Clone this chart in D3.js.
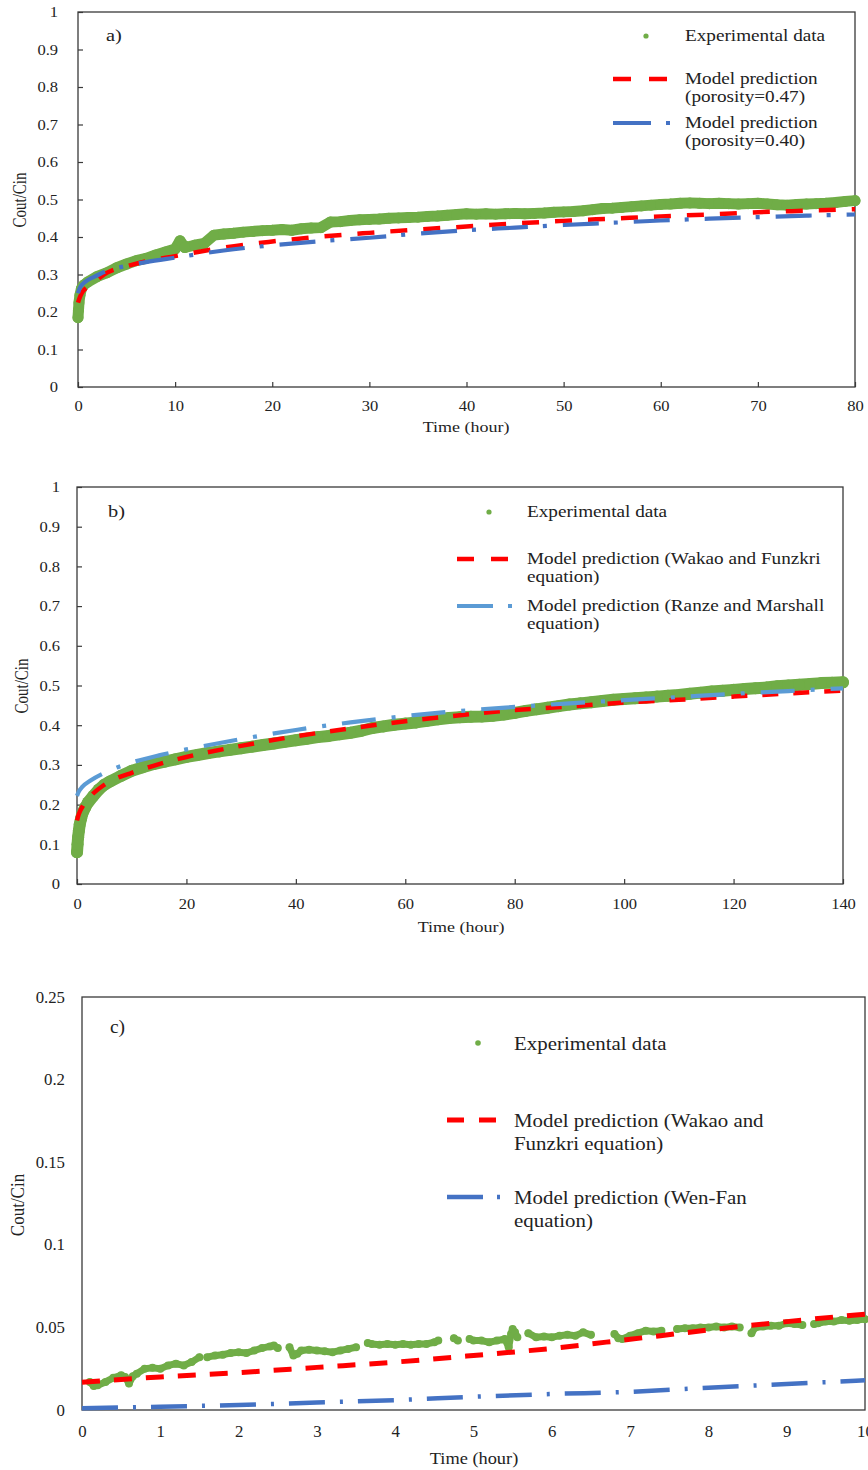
<!DOCTYPE html>
<html>
<head>
<meta charset="utf-8">
<script src="https://cdn.jsdelivr.net/npm/d3@7"></script>
<style>
  body { margin: 0; background: #fff; }
  svg { display: block; }
  text { font-family: "Liberation Serif", "Times New Roman", serif; fill: #222; }
</style>
</head>
<body>
<svg id="chart" width="868" height="1470"></svg>
<script>
// ---------- Panel a: porosity comparison (0-80 h) ----------
const xTicksA = [0, 10, 20, 30, 40, 50, 60, 70, 80];
const yTicksA = [0, 0.1, 0.2, 0.3, 0.4, 0.5, 0.6, 0.7, 0.8, 0.9, 1];
const timeExpA = [0, 0.05, 0.1, 0.2, 0.35, 0.6, 1, 2, 3, 4, 5, 6, 7, 8, 9, 10, 10.5, 11, 12, 13, 14, 15, 16, 17, 18, 19,
  20, 21, 22, 23, 24, 25, 26, 27, 28, 29, 30, 31, 32, 33, 34, 35, 36, 37, 38, 39, 40, 41, 42, 43, 44, 45, 46, 47, 48, 49,
  50, 51, 52, 53, 54, 55, 56, 57, 58, 59, 60, 61, 62, 63, 64, 65, 66, 67, 68, 69, 70, 71, 72, 73, 74, 75, 76, 77, 78, 79, 80];
const cExpA = [0.185, 0.205, 0.225, 0.245, 0.262, 0.272, 0.280, 0.295, 0.305, 0.318, 0.328, 0.337, 0.343, 0.352, 0.360,
  0.368, 0.390, 0.372, 0.378, 0.383, 0.405, 0.408, 0.410, 0.413, 0.415, 0.417,
  0.418, 0.420, 0.418, 0.422, 0.424, 0.425, 0.440, 0.441, 0.444, 0.446, 0.447, 0.448, 0.450, 0.451, 0.452, 0.453,
  0.455, 0.456, 0.458, 0.460, 0.462, 0.461, 0.462, 0.461, 0.462, 0.463, 0.462, 0.463, 0.464, 0.466,
  0.467, 0.468, 0.470, 0.473, 0.476, 0.477, 0.479, 0.481, 0.483, 0.485, 0.487, 0.488, 0.490, 0.491, 0.490,
  0.489, 0.490, 0.489, 0.488, 0.489, 0.490, 0.488, 0.486, 0.485, 0.487, 0.488, 0.489, 0.490, 0.492, 0.495, 0.497];
const timeModelA = [0, 0.2, 0.5, 1, 2, 3, 5, 7, 10, 15, 20, 25, 30, 35, 40, 45, 50, 55, 60, 65, 70, 75, 80];
const cModelA047 = [0.225, 0.240, 0.255, 0.268, 0.287, 0.305, 0.322, 0.335, 0.349, 0.372, 0.388, 0.401, 0.411, 0.420,
  0.428, 0.436, 0.443, 0.449, 0.455, 0.460, 0.466, 0.470, 0.474];
const cModelA040 = [0.250, 0.265, 0.275, 0.285, 0.298, 0.310, 0.323, 0.333, 0.345, 0.364, 0.378, 0.389, 0.398, 0.409,
  0.418, 0.425, 0.432, 0.438, 0.444, 0.449, 0.453, 0.457, 0.460];

// ---------- Panel b: correlation comparison (0-140 h) ----------
const xTicksB = [0, 20, 40, 60, 80, 100, 120, 140];
const yTicksB = [0, 0.1, 0.2, 0.3, 0.4, 0.5, 0.6, 0.7, 0.8, 0.9, 1];
const timeExpB = [0, 0.1, 0.2, 0.35, 0.5, 0.75, 1, 1.5, 2, 3, 4, 5, 6, 8, 10, 12, 14, 16, 18, 20, 22, 24, 26, 28, 30,
  32, 34, 36, 38, 40, 42, 44, 46, 48, 50, 52, 54, 56, 58, 60, 62, 64, 66, 68, 70, 72, 74, 76, 78, 80, 82, 84, 86, 88,
  90, 92, 94, 96, 98, 100, 102, 104, 106, 108, 110, 112, 114, 116, 118, 120, 122, 124, 126, 128, 130, 132, 134, 136, 138, 140];
const cExpB = [0.080, 0.100, 0.118, 0.135, 0.150, 0.165, 0.178, 0.193, 0.205, 0.222, 0.238, 0.250, 0.258, 0.272, 0.285,
  0.294, 0.302, 0.308, 0.314, 0.320, 0.325, 0.330, 0.334, 0.338, 0.342, 0.346, 0.350, 0.354, 0.358, 0.362, 0.366, 0.370,
  0.373, 0.377, 0.381, 0.386, 0.393, 0.397, 0.401, 0.404, 0.407, 0.411, 0.415, 0.418, 0.420, 0.421, 0.422, 0.424, 0.427,
  0.431, 0.436, 0.440, 0.444, 0.448, 0.452, 0.455, 0.458, 0.461, 0.464, 0.466, 0.468, 0.470, 0.472, 0.474, 0.476, 0.479,
  0.482, 0.485, 0.487, 0.489, 0.491, 0.493, 0.495, 0.498, 0.500, 0.502, 0.504, 0.506, 0.507, 0.508];
const timeModelB = [0, 0.3, 1, 2.4, 5, 7, 10, 15, 20, 30, 40, 50, 60, 70, 80, 90, 100, 110, 120, 130, 140];
const cModelBWakao = [0.160, 0.175, 0.195, 0.220, 0.250, 0.265, 0.280, 0.302, 0.320, 0.348, 0.372, 0.392, 0.410, 0.425,
  0.438, 0.447, 0.457, 0.464, 0.472, 0.480, 0.487];
const cModelBRanz = [0.222, 0.232, 0.245, 0.260, 0.280, 0.292, 0.306, 0.324, 0.339, 0.365, 0.388, 0.407, 0.423, 0.436,
  0.446, 0.455, 0.463, 0.471, 0.479, 0.486, 0.493];

// ---------- Panel c: short run (0-10 h) ----------
const xTicksC = [0, 1, 2, 3, 4, 5, 6, 7, 8, 9, 10];
const yTicksC = [0, 0.05, 0.1, 0.15, 0.2, 0.25];
const timeExpC = [0.1, 0.15, 0.2, 0.3, 0.4, 0.5, 0.55, 0.6, 0.65, 0.7, 0.8, 0.9, 1.0, 1.1, 1.2, 1.3, 1.4, 1.5, 1.55,
  1.6, 1.7, 1.8, 1.9, 2.0, 2.1, 2.2, 2.3, 2.4, 2.45, 2.5, 2.58, 2.65, 2.7, 2.75, 2.8, 2.9, 3.0, 3.1, 3.2, 3.3, 3.4, 3.5,
  3.58, 3.65, 3.7, 3.8, 3.9, 4.0, 4.1, 4.2, 4.3, 4.4, 4.5, 4.55, 4.65, 4.75, 4.8, 4.88, 4.95, 5.0, 5.1, 5.2, 5.3, 5.4,
  5.45, 5.48, 5.5, 5.53, 5.56, 5.63, 5.7, 5.8, 5.9, 6.0, 6.1, 6.2, 6.3, 6.4, 6.5, 6.62, 6.8, 6.85, 6.9, 7.0, 7.1, 7.2,
  7.3, 7.4, 7.5, 7.6, 7.7, 7.8, 7.9, 8.0, 8.1, 8.2, 8.3, 8.4, 8.47, 8.55, 8.6, 8.7, 8.8, 8.9, 9.0, 9.1, 9.2, 9.27, 9.35,
  9.4, 9.5, 9.6, 9.7, 9.8, 9.9, 10.0];
const cExpC = [0.0170, 0.0145, 0.0150, 0.0170, 0.0195, 0.0210, 0.0200, 0.0160, 0.0205, 0.0220, 0.0250, 0.0255, 0.0250,
  0.0270, 0.0280, 0.0270, 0.0290, 0.0320, null,
  0.0320, 0.0330, 0.0335, 0.0345, 0.0350, 0.0345, 0.0360, 0.0375, 0.0385, 0.0390, 0.0375, null, 0.0380, 0.0330, 0.0340,
  0.0360, 0.0365, 0.0360, 0.0355, 0.0350, 0.0360, 0.0370, 0.0380,
  null, 0.0405, 0.0400, 0.0395, 0.0400, 0.0395, 0.0400, 0.0395, 0.0400, 0.0400, 0.0410, 0.0420, null, 0.0435, 0.0420,
  null, 0.0430, 0.0420, 0.0420, 0.0410, 0.0420, 0.0430,
  0.0380, 0.0460, 0.0490, 0.0470, 0.0440, null, 0.0465, 0.0440, 0.0445, 0.0440, 0.0450, 0.0455, 0.0450, 0.0470, 0.0455,
  null, 0.0460, 0.0435, 0.0430, 0.0450, 0.0465, 0.0480,
  0.0475, 0.0480, null, 0.0490, 0.0495, 0.0495, 0.0500, 0.0500, 0.0505, 0.0500, 0.0505, 0.0500, null, 0.0465, 0.0500,
  0.0505, 0.0510, 0.0510, 0.0525, 0.0520, 0.0515, null, 0.0520,
  0.0525, 0.0535, 0.0535, 0.0545, 0.0540, 0.0545, 0.0550];
const timeModelC = [0, 1, 2, 3, 4, 5, 6, 7, 8, 9, 10];
const cModelCWakao = [0.0168, 0.0200, 0.0226, 0.0258, 0.0290, 0.0330, 0.0373, 0.0428, 0.0484, 0.0535, 0.0580];
const cModelCWenFan = [0.0010, 0.0020, 0.0030, 0.0045, 0.0060, 0.0080, 0.0097, 0.0110, 0.0135, 0.0157, 0.0180];

const GREEN = "#70AD47", RED = "#FF0000", BLUE = "#4472C4", LIGHTBLUE = "#5B9BD5", FRAME = "#3a3a3a";

const svg = d3.select("#chart");

// Text helper: horizontally stretched, vertically centred label
function label(parent, x, y, str, o) {
  const g = parent.append("g")
    .attr("transform", `translate(${x},${y}) scale(${o.sx || 1},1)` + (o.rotate ? ` rotate(${o.rotate})` : ""));
  g.append("text")
    .attr("text-anchor", o.anchor || "start")
    .attr("dominant-baseline", "central")
    .style("font-size", o.size + "px")
    .text(str);
}

function drawPanel(p) {
  const g = svg.append("g");
  const x = d3.scaleLinear().domain(p.xDomain).range([p.left, p.right]);
  const y = d3.scaleLinear().domain(p.yDomain).range([p.bottom, p.top]);

  // axes (inside ticks where present)
  const fmt = d3.format("~g");
  const xg = g.append("g").attr("transform", `translate(0,${p.bottom})`)
    .call(d3.axisBottom(x).tickValues(p.xTicks).tickSize(-p.tickLen).tickPadding(p.xPad).tickFormat(fmt));
  const yg = g.append("g").attr("transform", `translate(${p.left},0)`)
    .call(d3.axisLeft(y).tickValues(p.yTicks).tickSize(-p.tickLen).tickPadding(p.yPad / p.tickSx).tickFormat(fmt));
  [xg, yg].forEach(a => {
    a.attr("font-family", null).attr("font-size", null);
    a.select(".domain").remove();
    a.selectAll(".tick line").attr("stroke", FRAME).attr("stroke-width", 1.2);
    a.selectAll(".tick text").style("font-size", p.tickSize + "px").attr("fill", "#222")
      .attr("transform", `scale(${p.tickSx},1)`);
  });
  if (p.tickLen === 0) { xg.selectAll(".tick line").remove(); yg.selectAll(".tick line").remove(); }

  // frame
  g.append("rect")
    .attr("x", p.left).attr("y", p.top)
    .attr("width", p.right - p.left).attr("height", p.bottom - p.top)
    .attr("fill", "none").attr("stroke", FRAME).attr("stroke-width", 1.3);

  // experimental points: dense scatter, drawn as dots over a band joining neighbouring samples
  const pts = p.expT.map((t, i) => ({ t, v: p.expV[i] }));
  g.append("path")
    .datum(pts)
    .attr("fill", "none").attr("stroke", GREEN).attr("stroke-width", p.bridge)
    .attr("stroke-linecap", "round").attr("stroke-linejoin", "round")
    .attr("d", d3.line().defined(d => d.v !== null).x(d => x(d.t)).y(d => y(d.v)));
  g.append("g").selectAll("circle")
    .data(pts.filter(d => d.v !== null))
    .join("circle")
    .attr("cx", d => x(d.t)).attr("cy", d => y(d.v)).attr("r", p.dotR)
    .attr("fill", GREEN);

  // model curves
  p.models.forEach(m => {
    const data = p.modelT.map((t, i) => ({ t, v: m.values[i] }));
    g.append("path")
      .datum(data)
      .attr("fill", "none").attr("stroke", m.color).attr("stroke-width", m.width)
      .attr("stroke-dasharray", m.dash)
      .attr("d", d3.line().curve(d3.curveMonotoneX).x(d => x(d.t)).y(d => y(d.v)));
  });

  // axis titles and panel tag
  label(g, p.xTitle[0], p.xTitle[1], "Time (hour)", { size: p.titleSize, sx: p.sx, anchor: "middle" });
  label(g, p.yTitle[0], p.yTitle[1], "Cout/Cin", { size: p.titleSize, sx: p.sx, anchor: "middle", rotate: -90 });
  label(g, p.tag[0], p.tag[1], p.tag[2], { size: p.tagSize, sx: p.sx });

  // legend
  const L = p.legend;
  g.append("circle").attr("cx", L.dot[0]).attr("cy", L.dot[1]).attr("r", L.dotR).attr("fill", GREEN);
  label(g, L.textX, L.dot[1], "Experimental data", { size: L.size, sx: L.sx });
  p.models.forEach((m, i) => {
    const row = L.rows[i];
    g.append("line")
      .attr("x1", L.lineX[0]).attr("x2", L.lineX[1]).attr("y1", row.y).attr("y2", row.y)
      .attr("stroke", m.color).attr("stroke-width", m.width).attr("stroke-dasharray", m.legendDash);
    m.label.forEach((s, k) => label(g, L.textX, row.y + k * row.lh, s, { size: L.size, sx: L.sx }));
  });
}

drawPanel({
  left: 78, right: 855, top: 12, bottom: 387,
  xDomain: [0, 80], yDomain: [0, 1], xTicks: xTicksA, yTicks: yTicksA,
  tickLen: 5, xPad: 13, yPad: 20, tickSize: 15, tickSx: 1.1, sx: 1.2,
  titleSize: 15, xTitle: [466, 427], yTitle: [20, 200], tag: [106, 35, "a)"], tagSize: 17,
  expT: timeExpA, expV: cExpA, dotR: 5.5, bridge: 11,
  modelT: timeModelA,
  models: [
    { values: cModelA047, color: RED, width: 4.5, dash: "17,16", legendDash: "18,18",
      label: ["Model prediction", "(porosity=0.47)"] },
    { values: cModelA040, color: BLUE, width: 4.2, dash: "36,15,4,16", legendDash: "38,15,4,20",
      label: ["Model prediction", "(porosity=0.40)"] }
  ],
  legend: { dot: [646, 36], dotR: 2.6, textX: 685, size: 16, sx: 1.2, lineX: [613, 671],
    rows: [{ y: 79, lh: 18 }, { y: 123, lh: 18 }] }
});

drawPanel({
  left: 77, right: 843, top: 487, bottom: 884,
  xDomain: [0, 140], yDomain: [0, 1], xTicks: xTicksB, yTicks: yTicksB,
  tickLen: 5, xPad: 14, yPad: 17, tickSize: 15, tickSx: 1.1, sx: 1.2,
  titleSize: 15, xTitle: [461, 927], yTitle: [22, 686], tag: [108, 511, "b)"], tagSize: 17,
  expT: timeExpB, expV: cExpB, dotR: 6, bridge: 12,
  modelT: timeModelB,
  models: [
    { values: cModelBWakao, color: RED, width: 4.5, dash: "16,15", legendDash: "17,17",
      label: ["Model prediction (Wakao and Funzkri", "equation)"] },
    { values: cModelBRanz, color: LIGHTBLUE, width: 4.2, dash: "34,16,4,16", legendDash: "36,15,4,20",
      label: ["Model prediction (Ranze and Marshall", "equation)"] }
  ],
  legend: { dot: [489, 512], dotR: 2.6, textX: 527, size: 16, sx: 1.2, lineX: [457, 514],
    rows: [{ y: 559, lh: 18 }, { y: 606, lh: 18 }] }
});

drawPanel({
  left: 82, right: 865, top: 997, bottom: 1410,
  xDomain: [0, 10], yDomain: [0, 0.25], xTicks: xTicksC, yTicks: yTicksC,
  tickLen: 0, xPad: 16, yPad: 17, tickSize: 16, tickSx: 1.05, sx: 1.08,
  titleSize: 17, xTitle: [474, 1458], yTitle: [18, 1205], tag: [110, 1027, "c)"], tagSize: 18,
  expT: timeExpC, expV: cExpC, dotR: 4, bridge: 7,
  modelT: timeModelC,
  models: [
    { values: cModelCWakao, color: RED, width: 5, dash: "18,14", legendDash: "17,15",
      label: ["Model prediction (Wakao and", "Funzkri equation)"] },
    { values: cModelCWenFan, color: BLUE, width: 4.5, dash: "36,15,3,15", legendDash: "36,14,4,20",
      label: ["Model prediction (Wen-Fan", "equation)"] }
  ],
  legend: { dot: [478, 1043], dotR: 2.8, textX: 514, size: 19, sx: 1.1, lineX: [447, 500],
    rows: [{ y: 1120, lh: 23 }, { y: 1197, lh: 23 }] }
});
</script>
</body>
</html>
